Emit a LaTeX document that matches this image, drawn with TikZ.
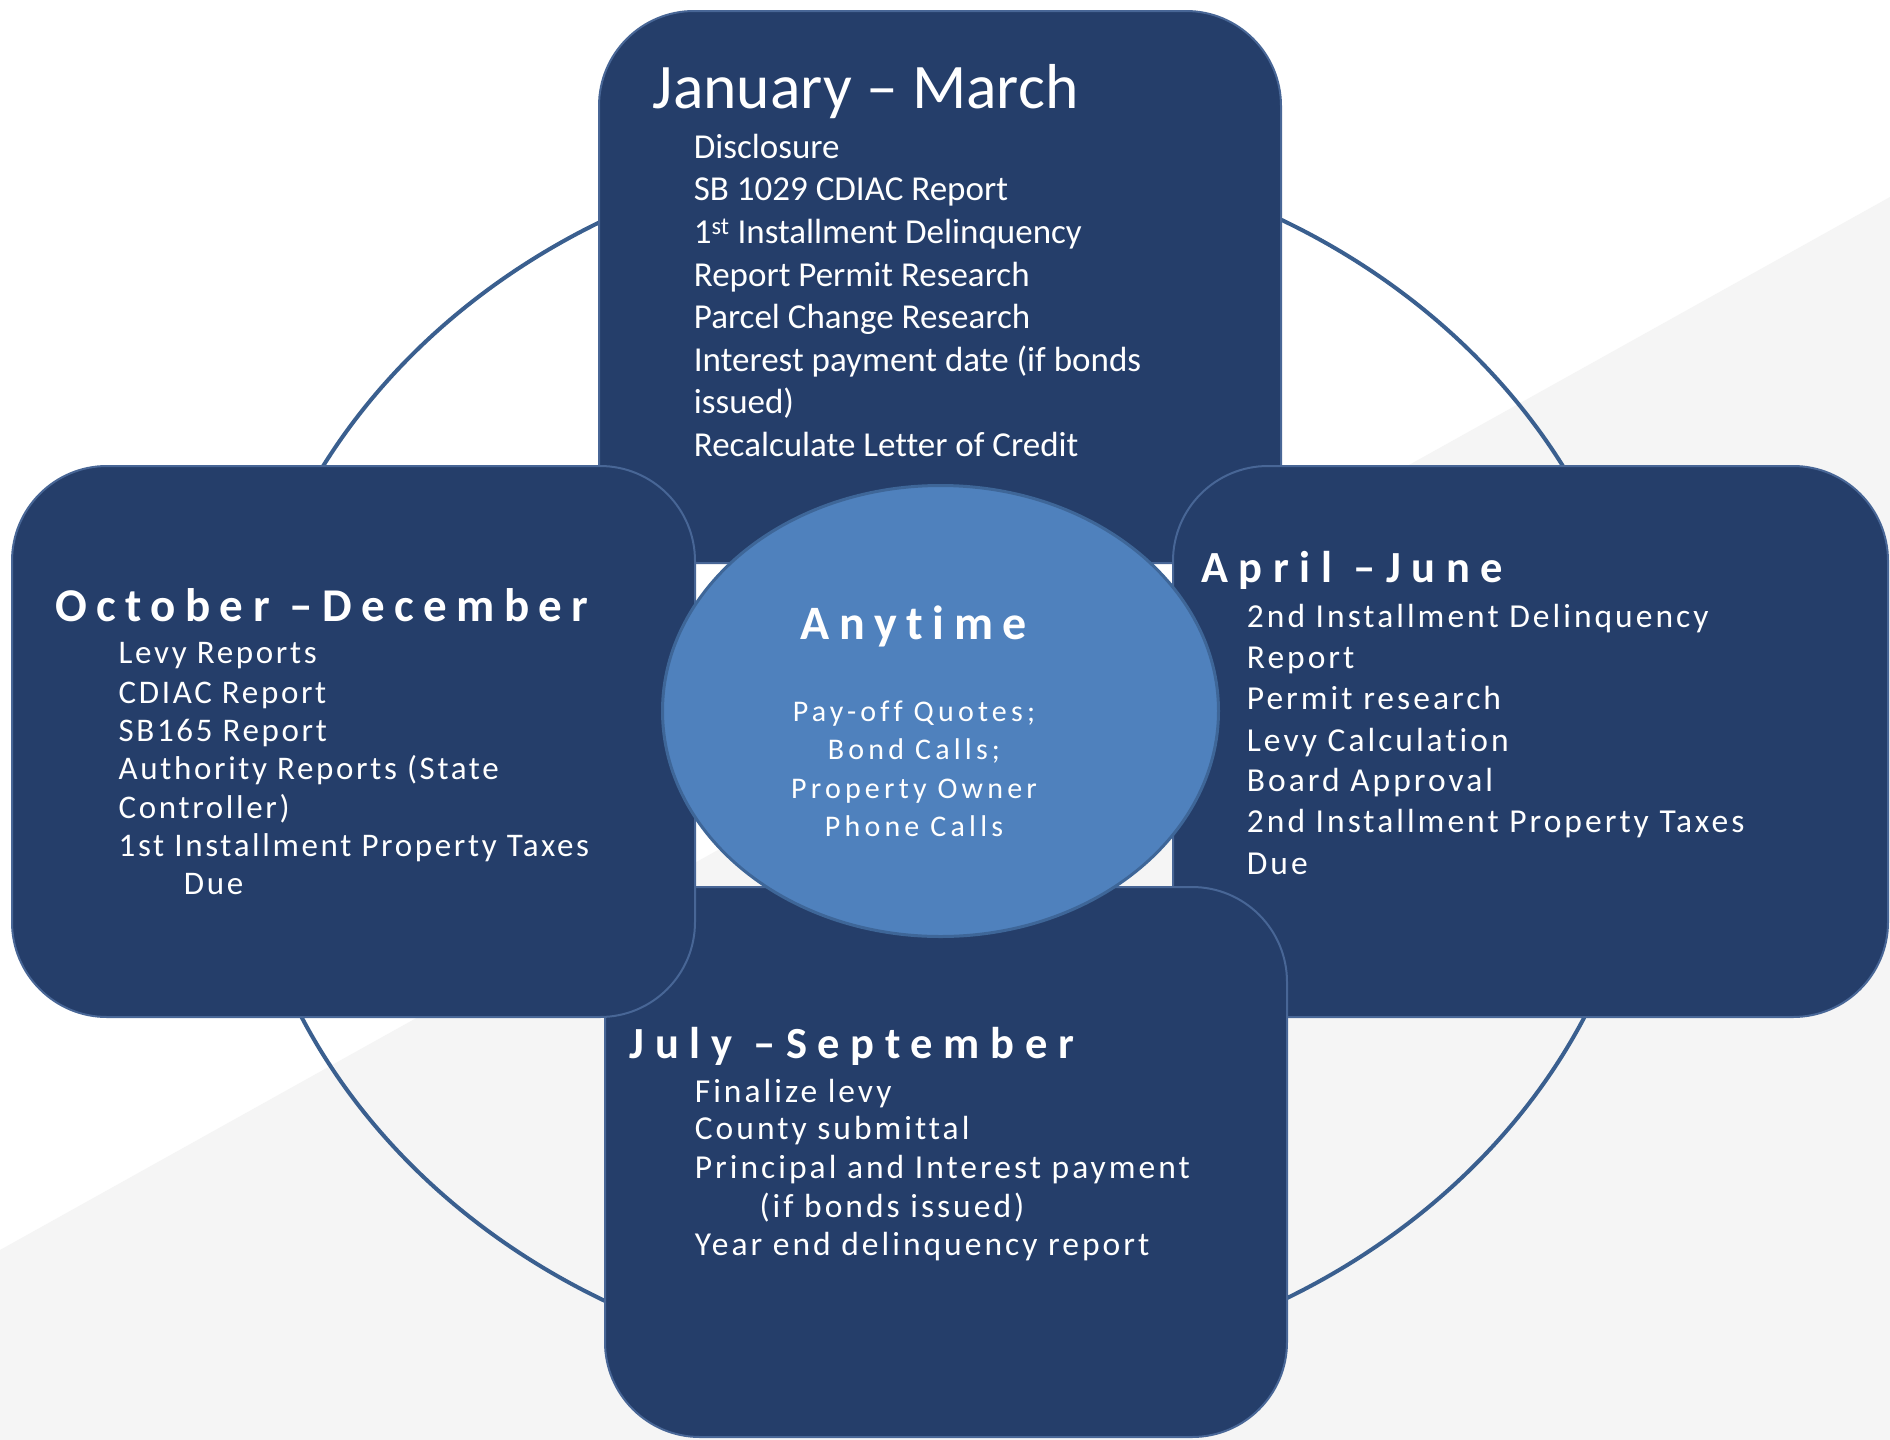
\documentclass[tikz,border=0pt]{standalone}
\usepackage{fontspec}
\usetikzlibrary{shapes.geometric}
\setmainfont[Ligatures=CommonOff]{Carlito}
\newfontfamily\spacedbody[LetterSpace=9,Ligatures=CommonOff]{Carlito}
\newfontfamily\spacedbodyn[LetterSpace=8,Ligatures=CommonOff]{Carlito}
\newfontfamily\spacedhead[LetterSpace=20,Ligatures=CommonOff]{Carlito}
\newfontfamily\spacedheadw[LetterSpace=24,Ligatures=CommonOff]{Carlito}
\newfontfamily\spacedmid[LetterSpace=14,Ligatures=CommonOff]{Carlito}
\definecolor{boxblue}{RGB}{37,62,106}
\definecolor{boxline}{RGB}{72,102,150}
\definecolor{ringblue}{RGB}{58,95,143}
\definecolor{midblue}{RGB}{79,129,189}
\definecolor{midline}{RGB}{62,102,152}
\definecolor{bggray}{RGB}{245,245,245}
\begin{document}
\begin{tikzpicture}[x=1pt,y=-1pt,
  season/.style={rectangle, fill=boxblue, draw=boxline, line width=2pt, rounded corners=95pt, inner sep=0pt},
  txt/.style={anchor=base west, inner sep=0pt, text=white},
  plainbody/.style={txt, font=\fontsize{35}{42}\selectfont},
  sbody/.style={txt, font=\spacedbody\fontsize{33.5}{40}\selectfont},
  sbodyn/.style={txt, font=\spacedbodyn\fontsize{33}{40}\selectfont},
  shead/.style={txt, font=\spacedheadw\bfseries\fontsize{44.5}{52}\selectfont},
  mid/.style={anchor=base, inner sep=0pt, text=white, font=\spacedmid\fontsize{30}{36}\selectfont}]
\useasboundingbox (0,0) rectangle (1890,1440);
\fill[white] (0,0) rectangle (1890,1440);
\fill[bggray] (0,1250) -- (1890,197) -- (1890,1440) -- (0,1440) -- cycle;
% outer ring
\node[ellipse, draw=ringblue, line width=4pt, minimum width=1411pt, minimum height=1231.6pt, inner sep=0pt] (ring) at (943,760.3) {};
% season boxes
\node[season, minimum width=682pt, minimum height=552pt] (jan) at (940,287) {};
\node[season, minimum width=715pt, minimum height=551pt] (apr) at (1530.5,741.5) {};
\node[season, minimum width=682pt, minimum height=550pt] (jul) at (946,1162) {};
\node[season, minimum width=683pt, minimum height=551pt] (oct) at (353.5,741.5) {};
% centre
\node[ellipse, fill=midblue, draw=midline, line width=3pt, minimum width=556pt, minimum height=451pt, inner sep=0pt] (any) at (940.5,711) {};
% January - March
\node[txt, font=\fontsize{63.5}{74}\selectfont] (jant) at (652.7,108.3) {January – March};
\foreach \yy/\tx [count=\i] in {158.3/Disclosure, 200.9/SB 1029 CDIAC Report, 243.5/{1\textsuperscript{st} Installment Delinquency}, 286.1/Report Permit Research, 328.7/Parcel Change Research, 371.3/Interest payment date (if bonds, 413.9/issued), 456.5/Recalculate Letter of Credit}
  \node[plainbody] (janl\i) at (693.7,\yy) {\tx};
% October - December
\node[txt, font=\spacedhead\bfseries\fontsize{47}{56}\selectfont] (octt) at (55,621.8) {October –December};
\foreach \yy/\tx [count=\i] in {663.9/Levy Reports, 703.3/CDIAC Report, 741.6/SB165 Report, 779.8/Authority Reports (State, 818/Controller), 856.4/1st Installment Property Taxes}
  \node[sbodyn] (octl\i) at (118.5,\yy) {\tx};
\node[sbodyn] (octdue) at (183.7,894.7) {Due};
% April - June
\node[shead] (aprt) at (1201,582.4) {April –June};
\foreach \yy/\tx [count=\i] in {627.5/2nd Installment Delinquency, 668.5/Report, 709.8/Permit research, 751.9/Levy Calculation, 791.3/Board Approval, 832.3/2nd Installment Property Taxes, 874.4/Due}
  \node[sbody] (aprl\i) at (1246.7,\yy) {\tx};
% July - September
\node[shead] (jult) at (629.6,1058.6) {July –September};
\foreach \yy/\tx [count=\i] in {1102/Finalize levy, 1139.6/County submittal, 1178/Principal and Interest payment, 1255/Year end delinquency report}
  \node[sbody] (jull\i) at (694.7,\yy) {\tx};
\node[sbody] (julbonds) at (759.3,1217.5) {(if bonds issued)};
% Anytime
\node[mid, font=\spacedhead\bfseries\fontsize{48}{56}\selectfont] (anyt) at (914,639.3) {Anytime};
\foreach \yy/\tx [count=\i] in {721.7/Pay-off Quotes;, 759.3/Bond Calls;, 798.3/Property Owner, 836.7/Phone Calls}
  \node[mid] (anyl\i) at (914,\yy) {\tx};
\end{tikzpicture}
\end{document}
